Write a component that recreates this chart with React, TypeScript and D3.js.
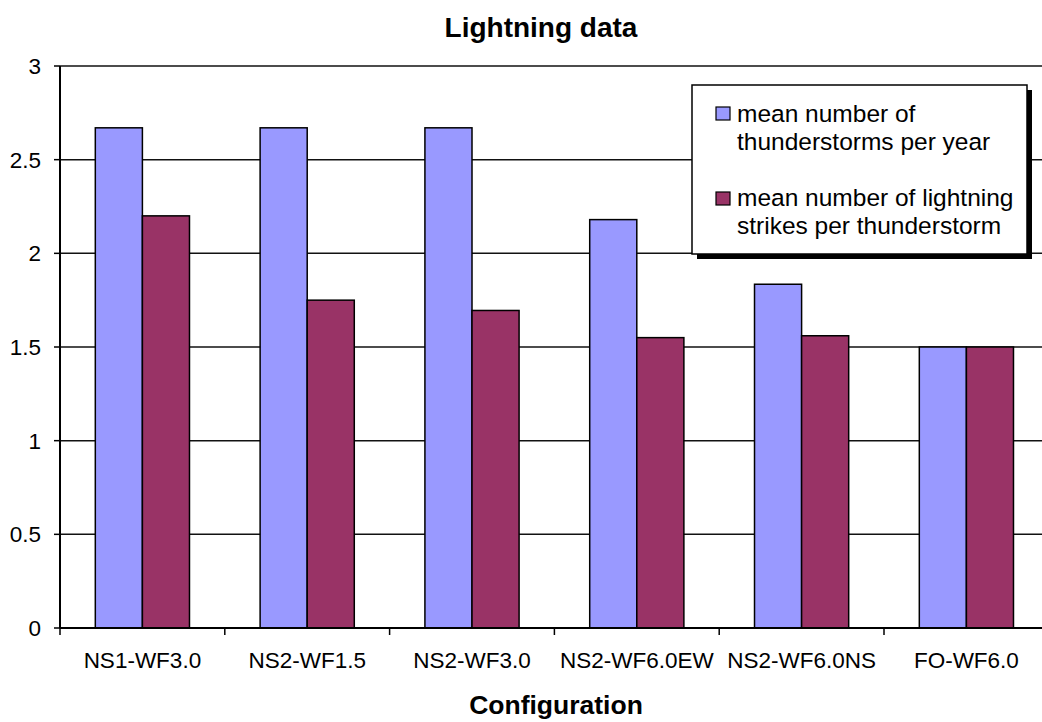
import React from "react";
import * as d3 from "d3";

const categories = ["NS1-WF3.0", "NS2-WF1.5", "NS2-WF3.0", "NS2-WF6.0EW", "NS2-WF6.0NS", "FO-WF6.0"];
const seriesNames = ["mean number of thunderstorms per year", "mean number of lightning strikes per thunderstorm"];
const thunderstorms = [2.67, 2.67, 2.67, 2.18, 1.835, 1.5];
const strikes = [2.2, 1.75, 1.695, 1.55, 1.56, 1.5];
const yTicks = [0, 0.5, 1, 1.5, 2, 2.5, 3];
const colors = ["#9999FF", "#993366"];
const legendLines = [["mean number of", "thunderstorms per year"], ["mean number of lightning", "strikes per thunderstorm"]];

const W = 1042;
const H = 722;
const FONT = "Arial, 'Liberation Sans', sans-serif";

export default function App() {
  const left = 60;
  const right = 60 + 6 * 164.8;
  const top = 66;
  const bottom = 628;
  const x = d3.scaleBand<string>().domain(categories).range([left, right]).paddingInner(0).paddingOuter(0);
  const xs = d3.scaleBand<string>().domain(seriesNames).range([0, x.bandwidth()]).paddingInner(0).paddingOuter(0.75);
  const y = d3.scaleLinear().domain([0, 3]).range([bottom, top]);
  const series = [thunderstorms, strikes];

  const lx = 692, ly = 85, lw = 335, lh = 169;

  return (
    <svg width={W} height={H} style={{ position: "absolute", left: 0, top: 0, display: "block", background: "#fff" }} fontFamily={FONT}>
      <rect x={0} y={0} width={W} height={H} fill="#fff" />
      <text x={541} y={37} textAnchor="middle" fontSize={28} fontWeight="bold" fill="#000">Lightning data</text>
      {yTicks.map((t) => (
        <g key={t}>
          {t > 0 && <line x1={left} x2={W} y1={y(t)} y2={y(t)} stroke="#111" strokeWidth={1.5} />}
          <line x1={left - 6} x2={left} y1={y(t)} y2={y(t)} stroke="#000" strokeWidth={1.5} />
          <text x={41} y={y(t)} dy="0.36em" textAnchor="end" fontSize={22.5} fill="#000">{t}</text>
        </g>
      ))}
      {categories.map((c, i) => (
        <g key={c}>
          {series.map((s, j) => (
            <rect key={j} x={(x(c) as number) + (xs(seriesNames[j]) as number)} y={y(s[i])} width={xs.bandwidth()} height={bottom - y(s[i])}
              fill={colors[j]} stroke="#000" strokeWidth={1.5} />
          ))}
          <text x={(x(c) as number) + x.bandwidth() / 2} y={668} textAnchor="middle" fontSize={22.5} fill="#000">{c}</text>
        </g>
      ))}
      {d3.range(categories.length + 1).map((i) => (
        <line key={i} x1={left + i * x.step()} x2={left + i * x.step()} y1={bottom} y2={bottom + 7} stroke="#000" strokeWidth={1.5} />
      ))}
      <line x1={left} x2={left} y1={top} y2={bottom} stroke="#000" strokeWidth={2} />
      <line x1={left} x2={W} y1={bottom} y2={bottom} stroke="#000" strokeWidth={2} />
      <text x={556} y={714} textAnchor="middle" fontSize={26.5} fontWeight="bold" fill="#000">Configuration</text>

      <rect x={lx + 5} y={ly + 5} width={lw} height={lh} fill="#000" />
      <rect x={lx} y={ly} width={lw} height={lh} fill="#fff" stroke="#000" strokeWidth={1.5} />
      {legendLines.map((lines, j) => (
        <g key={j}>
          <rect x={716} y={107 + j * 85} width={14} height={13} fill={colors[j]} stroke="#000" strokeWidth={1.2} />
          {lines.map((ln, k) => (
            <text key={k} x={737} y={122 + j * 84 + k * 28} fontSize={24.5} fill="#000">{ln}</text>
          ))}
        </g>
      ))}
    </svg>
  );
}
